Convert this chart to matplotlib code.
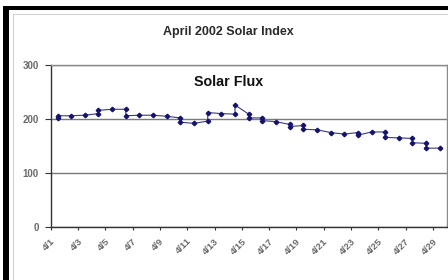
import matplotlib
matplotlib.use("Agg")
import matplotlib.pyplot as plt
from matplotlib.patches import Rectangle
from matplotlib.lines import Line2D
import matplotlib.transforms as mtransforms

plt.rcParams['font.family'] = ['Liberation Sans', 'DejaVu Sans']

# ---- data ----
day = [1, 1, 2, 3, 4, 4, 5, 6, 6, 7, 8, 9, 10, 10, 11, 12, 12, 13, 14, 14,
       15, 15, 16, 16, 17, 18, 18, 19, 19, 20, 21, 22, 23, 23, 24, 25, 25,
       26, 27, 27, 28, 28, 29]
flux = [201, 206, 206, 207, 210, 216, 218, 218, 206, 207, 207, 205, 202, 194,
        192, 196, 212, 210, 209, 226, 209, 202, 202, 197, 195, 190, 186, 188,
        181, 180, 175, 172, 175, 170, 176, 176, 166, 165, 164, 156, 155, 146,
        146]
tick_days = list(range(1, 30, 2))
tick_labels = [f"4/{d}" for d in tick_days]
y_ticks = [0, 100, 200, 300]

W, H = 448, 280
fig = plt.figure(figsize=(W / 100, H / 100), dpi=100)
fig.patch.set_facecolor('white')

# outer frame
fig.add_artist(Rectangle((3 / W, 0), 6 / W, (H - 6) / H, transform=fig.transFigure,
                         facecolor='black', edgecolor='none'))
fig.add_artist(Rectangle((3 / W, (H - 10) / H), (W - 3) / W, 4 / H, transform=fig.transFigure,
                         facecolor='black', edgecolor='none'))
fig.add_artist(Line2D([12.5 / W, 12.5 / W], [0, (H - 13.5) / H], transform=fig.transFigure,
                      color='#d0d0d0', lw=0.8))
fig.add_artist(Line2D([12.5 / W, 1], [(H - 13.5) / H, (H - 13.5) / H], transform=fig.transFigure,
                      color='#d0d0d0', lw=0.8))

ax = fig.add_axes([50.7 / W, 53 / H, 395.9 / W, 162 / H])
ax.set_xlim(0.5, 29.5)
ax.set_ylim(0, 300)

ax.plot(day, flux, color='#3a3a88', lw=0.8, marker='D', ms=2.3,
        mfc='#14146e', mec='#14146e', zorder=3)

# grid
ax.set_yticks(y_ticks)
ax.set_yticklabels([str(v) for v in y_ticks], fontsize=7, fontweight='bold', color='#6a6a6a')
ax.yaxis.grid(True, color='#7a7a7a', lw=1.0)
ax.set_axisbelow(True)
ax.tick_params(axis='y', direction='out', length=4, width=0.8, color='#333333', pad=4.5)

# x ticks at category boundaries, labels at categories
ax.set_xticks([d - 0.5 for d in tick_days])
ax.set_xticklabels([])
ax.tick_params(axis='x', which='major', direction='out', length=2.5, width=0.8, color='#333333')
ax.set_xticks(tick_days, minor=True)
ax.set_xticklabels(tick_labels, minor=True, fontsize=6.8, fontweight='bold', color='#6a6a6a',
                   rotation=45, ha='right', va='top', rotation_mode='anchor')
ax.tick_params(axis='x', which='minor', length=0, pad=7)
offset = mtransforms.ScaledTranslation(-7 / 100, 0, fig.dpi_scale_trans)
for lbl in ax.get_xticklabels(minor=True):
    lbl.set_transform(lbl.get_transform() + offset)

for s in ['left', 'bottom']:
    ax.spines[s].set_color('#333333')
    ax.spines[s].set_linewidth(1.0)
for s in ['top', 'right']:
    ax.spines[s].set_color('#8a8a8a')
    ax.spines[s].set_linewidth(1.0)

fig.text(228.5 / W, 1 - 32 / H, 'April 2002 Solar Index', ha='center', va='center',
         fontsize=9, fontweight='bold', color='#2a2a2a')
fig.text(228.5 / W, 1 - 82 / H, 'Solar Flux', ha='center', va='center',
         fontsize=10.3, fontweight='bold', color='#111111')

fig.savefig('out.png', dpi=100, facecolor='white')
